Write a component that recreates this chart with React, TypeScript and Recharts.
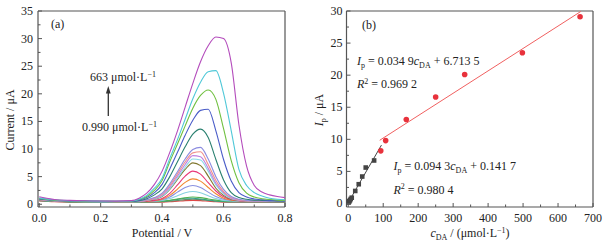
import {
  LineChart,
  Line,
  XAxis,
  YAxis,
  ReferenceLine,
  ComposedChart,
  Scatter,
} from 'recharts';

// ---- panel (a): DPV curves, current (µA) vs potential (V) ----
const potentials = [
  0, 0.05, 0.1, 0.15, 0.2, 0.25, 0.3, 0.325, 0.35, 0.375, 0.4, 0.425, 0.45, 0.475,
  0.5, 0.525, 0.55, 0.575, 0.6, 0.625, 0.65, 0.675, 0.7, 0.725, 0.75, 0.775, 0.8,
];

const curveA = [0.6, 0.45, 0.38, 0.36, 0.35, 0.35, 0.35, 0.35, 0.36, 0.37, 0.39, 0.45, 0.55, 0.65, 0.7, 0.65, 0.55, 0.45, 0.39, 0.36, 0.35, 0.35, 0.35, 0.35, 0.35, 0.35, 0.35];
const curveB = [0.65, 0.5, 0.43, 0.41, 0.4, 0.4, 0.4, 0.4, 0.41, 0.42, 0.46, 0.55, 0.69, 0.83, 0.9, 0.83, 0.69, 0.55, 0.46, 0.42, 0.41, 0.4, 0.4, 0.4, 0.4, 0.4, 0.4];
const curveC = [0.7, 0.54, 0.46, 0.44, 0.43, 0.43, 0.43, 0.44, 0.45, 0.47, 0.54, 0.68, 0.88, 1.08, 1.08, 0.95, 0.78, 0.6, 0.5, 0.47, 0.46, 0.45, 0.45, 0.45, 0.45, 0.45, 0.45];
const curveD = [0.72, 0.56, 0.48, 0.46, 0.45, 0.45, 0.45, 0.46, 0.47, 0.5, 0.57, 0.72, 0.94, 1.18, 1.3, 1.2, 0.96, 0.74, 0.59, 0.53, 0.5, 0.5, 0.5, 0.5, 0.5, 0.5, 0.5];
const curveE = [0.75, 0.58, 0.5, 0.48, 0.47, 0.46, 0.46, 0.48, 0.5, 0.55, 0.7, 1.03, 1.55, 2.07, 2.3, 2.07, 1.55, 1.03, 0.7, 0.6, 0.55, 0.52, 0.5, 0.5, 0.5, 0.5, 0.5];
const curveF = [0.78, 0.6, 0.52, 0.49, 0.48, 0.47, 0.47, 0.49, 0.53, 0.6, 0.8, 1.3, 2.19, 3.03, 3.4, 3.03, 2.19, 1.4, 0.9, 0.68, 0.58, 0.54, 0.52, 0.51, 0.5, 0.5, 0.5];
const curveG = [0.8, 0.62, 0.54, 0.5, 0.49, 0.48, 0.48, 0.5, 0.55, 0.65, 0.91, 1.6, 2.73, 3.96, 4.6, 4.19, 3.04, 1.9, 1.1, 0.75, 0.62, 0.56, 0.54, 0.53, 0.52, 0.52, 0.52];
const curveH = [0.82, 0.63, 0.54, 0.51, 0.5, 0.5, 0.5, 0.52, 0.57, 0.7, 1.05, 1.97, 3.5, 5.1, 6.0, 5.45, 3.9, 2.4, 1.35, 0.85, 0.65, 0.57, 0.55, 0.54, 0.53, 0.52, 0.52];
const curveI = [0.84, 0.64, 0.55, 0.51, 0.5, 0.5, 0.5, 0.55, 0.65, 0.9, 1.4, 2.7, 4.5, 6.3, 7.5, 7.0, 5.1, 2.9, 1.6, 0.9, 0.68, 0.58, 0.55, 0.55, 0.55, 0.55, 0.55];
const curveJ = [0.85, 0.65, 0.55, 0.52, 0.5, 0.5, 0.5, 0.55, 0.68, 0.95, 1.5, 2.8, 4.7, 6.7, 8.2, 8.0, 6.0, 3.5, 1.9, 1.0, 0.72, 0.6, 0.56, 0.55, 0.55, 0.55, 0.55];
const curveK = [0.86, 0.66, 0.56, 0.52, 0.5, 0.5, 0.5, 0.56, 0.7, 1.0, 1.65, 3.1, 5.1, 7.2, 8.8, 8.6, 6.5, 3.8, 2.1, 1.1, 0.75, 0.62, 0.58, 0.55, 0.55, 0.55, 0.55];
const curveL = [0.88, 0.67, 0.56, 0.52, 0.5, 0.5, 0.5, 0.58, 0.75, 1.1, 1.8, 3.4, 5.5, 7.7, 9.3, 9.5, 7.2, 4.3, 2.3, 1.2, 0.8, 0.65, 0.6, 0.57, 0.55, 0.55, 0.55];
const curveM = [0.9, 0.68, 0.57, 0.53, 0.5, 0.5, 0.5, 0.6, 0.8, 1.2, 2.0, 3.7, 5.9, 8.2, 9.9, 10.3, 8.2, 5.0, 2.7, 1.4, 0.9, 0.7, 0.6, 0.58, 0.56, 0.55, 0.55];
const curveN = [0.95, 0.7, 0.58, 0.54, 0.51, 0.5, 0.52, 0.65, 1.0, 1.7, 2.8, 5.0, 7.7, 10.4, 12.7, 13.6, 12.1, 8.1, 4.4, 2.1, 1.2, 0.9, 0.75, 0.7, 0.65, 0.6, 0.6];
const curveO = [1.0, 0.72, 0.6, 0.55, 0.52, 0.51, 0.55, 0.75, 1.2, 2.1, 3.6, 6.4, 9.4, 12.5, 15.2, 17.0, 17.2, 13.3, 8.1, 4.2, 2.1, 1.3, 0.95, 0.8, 0.7, 0.65, 0.6];
const curveP = [1.05, 0.75, 0.62, 0.56, 0.53, 0.52, 0.58, 0.85, 1.4, 2.5, 4.3, 7.7, 10.9, 14.2, 17.4, 19.7, 20.7, 19.0, 13.7, 7.9, 3.9, 2.0, 1.3, 1.0, 0.85, 0.75, 0.7];
const curveQ = [1.15, 0.8, 0.65, 0.58, 0.55, 0.53, 0.6, 0.9, 1.6, 2.9, 4.7, 8.3, 11.7, 15.4, 19.1, 22.1, 24.0, 24.2, 20.1, 13.3, 6.3, 3.4, 2.1, 1.5, 1.1, 0.9, 0.8];
const curveR = [1.35, 0.85, 0.7, 0.62, 0.58, 0.56, 0.65, 1.1, 2.0, 3.6, 6.0, 9.4, 13.3, 17.6, 21.9, 25.8, 28.7, 30.3, 30.0, 25.6, 14.4, 6.9, 3.4, 2.2, 1.7, 1.4, 1.2];

const curves = [
  curveA, curveB, curveC, curveD, curveE, curveF, curveG, curveH, curveI,
  curveJ, curveK, curveL, curveM, curveN, curveO, curveP, curveQ, curveR,
];
const curveColors = [
  '#e04848', '#6a8a6a', '#30a088', '#50b050', '#88d0e0', '#8890e0', '#f08830', '#e83878', '#807830',
  '#88d8e8', '#c080e0', '#f0908c', '#8c8ce0', '#2a8070', '#4a5cc8', '#70c040', '#50c8d8', '#b44cbc',
];

const aXMajor = [0, 0.2, 0.4, 0.6, 0.8];
const aXMinor = [0.1, 0.3, 0.5, 0.7];
const aYMajor = [0, 5, 10, 15, 20, 25, 30, 35];
const aYMinor = [2.5, 7.5, 12.5, 17.5, 22.5, 27.5, 32.5];

// ---- panel (b): peak current vs DA concentration ----
const lowConc = [1, 2, 3, 5, 7, 10, 20, 30, 40, 50, 74];
const lowCurrent = [0.15, 0.25, 0.35, 0.5, 0.7, 0.9, 1.95, 3.0, 4.2, 5.6, 6.7];
const highConc = [93, 107, 166, 250, 333, 498, 663];
const highCurrent = [8.2, 9.8, 13.1, 16.6, 20.1, 23.5, 29.1];
const lowFitX = [0, 95];
const lowFitY = [0.14, 9.1];
const highFitX = [90, 665];
const highFitY = [9.85, 29.92];

const bXMajor = [0, 100, 200, 300, 400, 500, 600, 700];
const bXMinor = [50, 150, 250, 350, 450, 550, 650];
const bYMajor = [0, 5, 10, 15, 20, 25, 30];
const bYMinor = [2.5, 7.5, 12.5, 17.5, 22.5, 27.5];

const FONT = '"Liberation Serif", "Times New Roman", serif';
const AXIS = '#555';
const TEXT = '#222';

const tableA = potentials.map((p, i) => {
  const row: any = { p };
  curves.forEach((c, k) => {
    row['s' + k] = c[i];
  });
  return row;
});

const pairs = (xs: number[], ys: number[]) => xs.map((x, i) => ({ x, y: ys[i] }));
const lowPoints = pairs(lowConc, lowCurrent);
const highPoints = pairs(highConc, highCurrent);
const lowFit = pairs(lowFitX, lowFitY);
const highFit = pairs(highFitX, highFitY);

const bottomTick = (majors: number[], fmt: (v: number) => string) => (props: any) => {
  const { x, y, payload } = props;
  const major = majors.includes(payload.value);
  return (
    <g>
      <line x1={x} x2={x} y1={y} y2={y - (major ? 4 : 2.5)} stroke={AXIS} strokeWidth={1} />
      {major && (
        <text x={x} y={y + 15} textAnchor="middle" fontSize={12} fontFamily={FONT} fill={TEXT}>
          {fmt(payload.value)}
        </text>
      )}
    </g>
  );
};

const leftTick = (majors: number[], gap: number) => (props: any) => {
  const { x, y, payload } = props;
  const major = majors.includes(payload.value);
  return (
    <g>
      <line x1={x} x2={x + (major ? 4 : 2.5)} y1={y} y2={y} stroke={AXIS} strokeWidth={1} />
      {major && (
        <text x={x - gap} y={y + 4} textAnchor="end" fontSize={12} fontFamily={FONT} fill={TEXT}>
          {payload.value}
        </text>
      )}
    </g>
  );
};

const byValue = (a: number, b: number) => a - b;

const circleShape = (props: any) => <circle cx={props.cx} cy={props.cy} r={2.8} fill="#e8323c" />;
const squareShape = (props: any) => (
  <rect x={props.cx - 2.3} y={props.cy - 2.3} width={4.6} height={4.6} fill="#444" />
);

function PanelA() {
  return (
    <LineChart width={306} height={247} data={tableA} margin={{ top: 11, right: 21, bottom: 0, left: 0 }}>
      <XAxis
        dataKey="p"
        type="number"
        domain={[-0.004, 0.8]}
        allowDataOverflow
        ticks={[...aXMajor, ...aXMinor].sort(byValue)}
        interval={0}
        tickSize={0}
        tickMargin={0}
        tickLine={false}
        height={40}
        axisLine={{ stroke: AXIS, strokeWidth: 1.2 }}
        tick={bottomTick(aXMajor, (v) => v.toFixed(1))}
      />
      <YAxis
        type="number"
        domain={[-0.5, 35]}
        allowDataOverflow
        ticks={[...aYMajor, ...aYMinor].sort(byValue)}
        interval={0}
        tickSize={0}
        tickMargin={0}
        tickLine={false}
        width={38}
        axisLine={{ stroke: AXIS, strokeWidth: 1.2 }}
        tick={leftTick(aYMajor, 5)}
      />
      <ReferenceLine x={0.8} stroke={AXIS} strokeWidth={1.2} />
      <ReferenceLine y={35} stroke={AXIS} strokeWidth={1.2} />
      {curves.map((_, k) => (
        <Line
          key={k}
          dataKey={'s' + k}
          type="monotone"
          stroke={curveColors[k]}
          strokeWidth={1.1}
          dot={false}
          isAnimationActive={false}
        />
      ))}
    </LineChart>
  );
}

function PanelB() {
  return (
    <ComposedChart width={306} height={247} margin={{ top: 11, right: 19, bottom: 0, left: 0 }}>
      <XAxis
        dataKey="x"
        type="number"
        domain={[-5, 700]}
        allowDataOverflow
        ticks={[...bXMajor, ...bXMinor].sort(byValue)}
        interval={0}
        tickSize={0}
        tickMargin={0}
        tickLine={false}
        height={40}
        axisLine={{ stroke: AXIS, strokeWidth: 1.2 }}
        tick={bottomTick(bXMajor, (v) => String(v))}
      />
      <YAxis
        dataKey="y"
        type="number"
        domain={[-0.55, 30]}
        allowDataOverflow
        ticks={[...bYMajor, ...bYMinor].sort(byValue)}
        interval={0}
        tickSize={0}
        tickMargin={0}
        tickLine={false}
        width={40.5}
        axisLine={{ stroke: AXIS, strokeWidth: 1.2 }}
        tick={leftTick(bYMajor, 4)}
      />
      <ReferenceLine x={700} stroke={AXIS} strokeWidth={1.2} />
      <ReferenceLine y={30} stroke={AXIS} strokeWidth={1.2} />
      <Line data={lowFit} dataKey="y" type="linear" stroke="#444" strokeWidth={1} dot={false} isAnimationActive={false} />
      <Line data={highFit} dataKey="y" type="linear" stroke="#f06060" strokeWidth={1} dot={false} isAnimationActive={false} />
      <Scatter data={lowPoints} dataKey="y" shape={squareShape} isAnimationActive={false} />
      <Scatter data={highPoints} dataKey="y" shape={circleShape} isAnimationActive={false} />
    </ComposedChart>
  );
}

function Labels() {
  return (
    <svg
      width={612}
      height={247}
      style={{ position: 'absolute', left: 0, top: 0, pointerEvents: 'none', whiteSpace: 'pre' }}
      fontFamily={FONT}
      fontSize={12}
      fill={TEXT}
    >
      {/* panel (a) */}
      <text x={51} y={28}>(a)</text>
      <text x={90} y={81}>
        663 μmol·L<tspan dy={-4.5} fontSize={8}>−1</tspan>
      </text>
      <line x1={108.3} y1={116} x2={108.3} y2={92} stroke="#333" strokeWidth={1.3} />
      <polygon points="108.3,86 105.9,93.5 110.7,93.5" fill="#333" />
      <text x={82} y={131}>
        0.990 μmol·L<tspan dy={-4.5} fontSize={8}>−1</tspan>
      </text>
      <text x={162} y={237} textAnchor="middle">Potential / V</text>
      <text transform="translate(14,120) rotate(-90)" textAnchor="middle">Current / μA</text>

      {/* panel (b) */}
      <text x={362} y={29}>(b)</text>
      <text x={357} y={64.5}>
        <tspan fontStyle="italic">I</tspan>
        <tspan dy={3} fontSize={8}>p</tspan>
        <tspan dy={-3}> = 0.034 9</tspan>
        <tspan fontStyle="italic">c</tspan>
        <tspan dy={3} fontSize={8}>DA</tspan>
        <tspan dy={-3}> + 6.713 5</tspan>
      </text>
      <text x={357} y={88}>
        <tspan fontStyle="italic">R</tspan>
        <tspan dy={-4.5} fontSize={8}>2</tspan>
        <tspan dy={4.5}> = 0.969 2</tspan>
      </text>
      <text x={393.5} y={170}>
        <tspan fontStyle="italic">I</tspan>
        <tspan dy={3} fontSize={8}>p</tspan>
        <tspan dy={-3}> = 0.094 3</tspan>
        <tspan fontStyle="italic">c</tspan>
        <tspan dy={3} fontSize={8}>DA</tspan>
        <tspan dy={-3}> + 0.141 7</tspan>
      </text>
      <text x={393.5} y={193.5}>
        <tspan fontStyle="italic">R</tspan>
        <tspan dy={-4.5} fontSize={8}>2</tspan>
        <tspan dy={4.5}> = 0.980 4</tspan>
      </text>
      <text x={470} y={237} textAnchor="middle">
        <tspan fontStyle="italic">c</tspan>
        <tspan dy={3} fontSize={8}>DA</tspan>
        <tspan dy={-3}> / (μmol·L</tspan>
        <tspan dy={-4.5} fontSize={8}>−1</tspan>
        <tspan dy={4.5}>)</tspan>
      </text>
      <text transform="translate(323,110) rotate(-90)" textAnchor="middle">
        <tspan fontStyle="italic">I</tspan>
        <tspan dy={3} fontSize={8}>p</tspan>
        <tspan dy={-3}> / μA</tspan>
      </text>
    </svg>
  );
}

export default function App() {
  return (
    <div style={{ position: 'absolute', left: 0, top: 0, width: 612, height: 247, background: '#fff' }}>
      <div style={{ position: 'absolute', left: 0, top: 0 }}>
        <PanelA />
      </div>
      <div style={{ position: 'absolute', left: 306, top: 0 }}>
        <PanelB />
      </div>
      <Labels />
    </div>
  );
}
